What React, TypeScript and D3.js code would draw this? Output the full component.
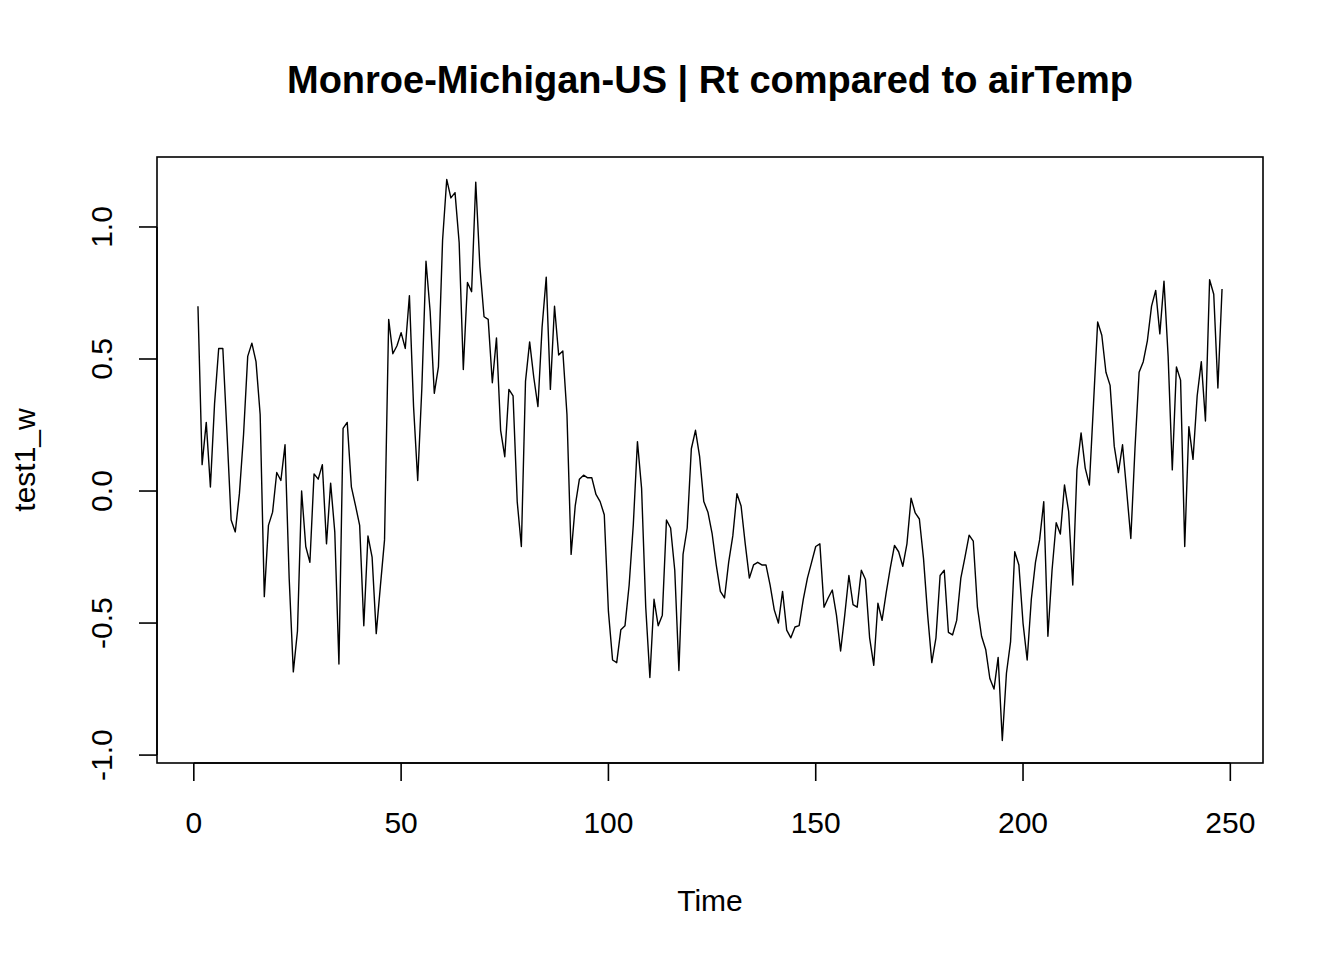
import React from "react";
import * as d3 from "d3";

const titleText = "Monroe-Michigan-US | Rt compared to airTemp";
const xLabel = "Time";
const yLabel = "test1_w";

const xTicks = [0, 50, 100, 150, 200, 250];
const yTicks = [-1.0, -0.5, 0.0, 0.5, 1.0];
const yTickLabels = ["-1.0", "-0.5", "0.0", "0.5", "1.0"];

const test1_w = [
  0.70, 0.10, 0.26, 0.015, 0.33, 0.54, 0.54, 0.22, -0.11, -0.155,
  -0.01, 0.215, 0.51, 0.56, 0.49, 0.29, -0.40, -0.13, -0.08, 0.07,
  0.04, 0.175, -0.33, -0.685, -0.53, 0.00, -0.21, -0.27, 0.065, 0.045,
  0.10, -0.20, 0.03, -0.155, -0.655, 0.237, 0.26, 0.016, -0.055, -0.13,
  -0.51, -0.17, -0.25, -0.54, -0.36, -0.185, 0.65, 0.52, 0.55, 0.60,
  0.54, 0.74, 0.32, 0.04, 0.39, 0.87, 0.68, 0.37, 0.47, 0.95,
  1.18, 1.11, 1.13, 0.94, 0.46, 0.79, 0.755, 1.17, 0.85, 0.66,
  0.65, 0.41, 0.58, 0.23, 0.13, 0.385, 0.36, -0.04, -0.21, 0.415,
  0.565, 0.43, 0.32, 0.62, 0.81, 0.385, 0.70, 0.515, 0.53, 0.29,
  -0.24, -0.055, 0.045, 0.06, 0.05, 0.05, -0.013, -0.04, -0.09, -0.456,
  -0.64, -0.65, -0.525, -0.51, -0.356, -0.128, 0.187, 0.01, -0.44, -0.706,
  -0.41, -0.51, -0.47, -0.11, -0.14, -0.30, -0.68, -0.24, -0.14, 0.16,
  0.23, 0.13, -0.04, -0.08, -0.16, -0.28, -0.38, -0.405, -0.27, -0.17,
  -0.01, -0.057, -0.20, -0.33, -0.28, -0.27, -0.28, -0.28, -0.356, -0.45,
  -0.50, -0.38, -0.527, -0.556, -0.515, -0.51, -0.41, -0.33, -0.27, -0.21,
  -0.20, -0.44, -0.405, -0.375, -0.47, -0.606, -0.47, -0.32, -0.43, -0.44,
  -0.30, -0.335, -0.556, -0.66, -0.425, -0.49, -0.385, -0.29, -0.206, -0.23,
  -0.285, -0.20, -0.027, -0.083, -0.106, -0.256, -0.47, -0.65, -0.556, -0.32,
  -0.30, -0.535, -0.545, -0.49, -0.33, -0.25, -0.167, -0.19, -0.44, -0.55,
  -0.60, -0.71, -0.75, -0.63, -0.945, -0.69, -0.57, -0.23, -0.28, -0.50,
  -0.64, -0.41, -0.27, -0.185, -0.04, -0.55, -0.30, -0.12, -0.163, 0.023,
  -0.077, -0.356, 0.08, 0.22, 0.087, 0.023, 0.33, 0.64, 0.59, 0.45,
  0.40, 0.17, 0.07, 0.175, 0.00, -0.18, 0.16, 0.45, 0.49, 0.57,
  0.70, 0.76, 0.595, 0.795, 0.51, 0.08, 0.47, 0.42, -0.21, 0.244,
  0.12, 0.36, 0.49, 0.265, 0.80, 0.745, 0.39, 0.765,
];

const FONT = "'Liberation Sans', Arial, Helvetica, sans-serif";

export default function App() {
  const W = 1344;
  const H = 960;
  const left = 157, right = 1263, top = 157, bottom = 763;

  const times = test1_w.map((_, i) => i + 1);
  const [x0, x1] = d3.extent(times) as [number, number];
  const [y0, y1] = d3.extent(test1_w) as [number, number];
  const xPad = (x1 - x0) * 0.04;
  const yPad = (y1 - y0) * 0.04;

  const x = d3.scaleLinear().domain([x0 - xPad, x1 + xPad]).range([left, right]);
  const y = d3.scaleLinear().domain([y0 - yPad, y1 + yPad]).range([bottom, top]);

  const line = d3
    .line<number>()
    .x((_, i) => x(times[i]))
    .y((d) => y(d));

  const tickLen = 18;

  return (
    <svg
      width={W}
      height={H}
      style={{ position: "absolute", left: 0, top: 0, background: "#fff" }}
      fontFamily={FONT}
    >
      <rect x={0} y={0} width={W} height={H} fill="#fff" />
      <text
        x={(left + right) / 2}
        y={93}
        textAnchor="middle"
        fontSize={38}
        fontWeight="bold"
        fill="#000"
      >
        {titleText}
      </text>

      <path d={line(test1_w) || ""} fill="none" stroke="#000" strokeWidth={1.4} strokeLinejoin="round" />

      <rect
        x={left}
        y={top}
        width={right - left}
        height={bottom - top}
        fill="none"
        stroke="#000"
        strokeWidth={1.6}
      />

      {/* x axis */}
      <line
        x1={x(xTicks[0])}
        x2={x(xTicks[xTicks.length - 1])}
        y1={bottom}
        y2={bottom}
        stroke="#000"
        strokeWidth={1.6}
      />
      {xTicks.map((t) => (
        <g key={"xt" + t}>
          <line x1={x(t)} x2={x(t)} y1={bottom} y2={bottom + tickLen} stroke="#000" strokeWidth={1.6} />
          <text x={x(t)} y={833} textAnchor="middle" fontSize={30} fill="#000">
            {t}
          </text>
        </g>
      ))}

      {/* y axis */}
      <line
        x1={left}
        x2={left}
        y1={y(yTicks[0])}
        y2={y(yTicks[yTicks.length - 1])}
        stroke="#000"
        strokeWidth={1.6}
      />
      {yTicks.map((t, i) => (
        <g key={"yt" + i}>
          <line x1={left - tickLen} x2={left} y1={y(t)} y2={y(t)} stroke="#000" strokeWidth={1.6} />
          <text
            transform={`translate(${112},${y(t)}) rotate(-90)`}
            textAnchor="middle"
            fontSize={30}
            fill="#000"
          >
            {yTickLabels[i]}
          </text>
        </g>
      ))}

      <text x={(left + right) / 2} y={911} textAnchor="middle" fontSize={30} fill="#000">
        {xLabel}
      </text>
      <text
        transform={`translate(${35},${(top + bottom) / 2}) rotate(-90)`}
        textAnchor="middle"
        fontSize={30}
        fill="#000"
      >
        {yLabel}
      </text>
    </svg>
  );
}
